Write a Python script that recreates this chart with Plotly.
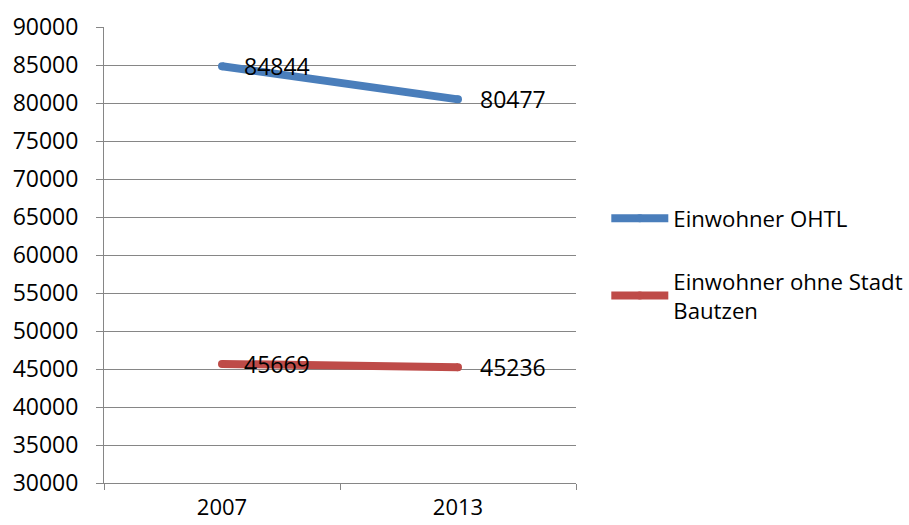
import plotly.graph_objects as go

years = ["2007", "2013"]
ohtl = [84844, 80477]
ohne_bautzen = [45669, 45236]
series_names = ["Einwohner OHTL", "Einwohner ohne Stadt<br>Bautzen"]
colors = ["#4A7EBB", "#BE4B48"]
y_ticks = list(range(30000, 90001, 5000))

FONT = "Open Sans"
fig = go.Figure()
for vals, name, col, grp in [(ohtl, series_names[0], colors[0], "a"),
                             (ohne_bautzen, series_names[1], colors[1], "b")]:
    fig.add_trace(go.Scatter(
        x=years, y=vals, name=name, mode="lines+markers", legendgroup=grp,
        line=dict(color=col, width=8),
        marker=dict(color=col, size=8, line=dict(width=0)),
    ))
    for i, yv in enumerate(vals):
        fig.add_annotation(x=i, y=yv, text=str(yv), showarrow=False,
                           xanchor="left", yanchor="middle", xshift=20,
                           font=dict(family=FONT, size=23, color="#000000"))

fig.update_layout(
    width=909, height=525,
    margin=dict(l=104, r=333, t=27, b=42),
    paper_bgcolor="white", plot_bgcolor="white",
    font=dict(family=FONT, size=23, color="#000000"),
    showlegend=True,
    legend=dict(xref="container", yref="container", x=0.667, y=0.624,
                xanchor="left", yanchor="top", itemwidth=57,
                tracegroupgap=31, font=dict(family=FONT, size=22.2),
                bgcolor="rgba(0,0,0,0)"),
    xaxis=dict(type="category", range=[-0.5, 1.5], showgrid=False,
               showline=True, linecolor="#868686", linewidth=1,
               ticks="outside", tickson="boundaries", ticklen=6,
               tickcolor="#868686", ticklabelstandoff=5, automargin=False,
               tickfont=dict(family=FONT, size=22)),
    yaxis=dict(range=[30000, 90000], tickvals=y_ticks,
               ticktext=[str(v) for v in y_ticks],
               showgrid=True, gridcolor="#868686", gridwidth=1,
               showline=True, linecolor="#868686", linewidth=1,
               ticks="outside", ticklen=7, tickcolor="#868686",
               ticklabelstandoff=13, zeroline=False, automargin=False,
               tickfont=dict(family=FONT, size=23)),
)
fig.write_html("out.html")
